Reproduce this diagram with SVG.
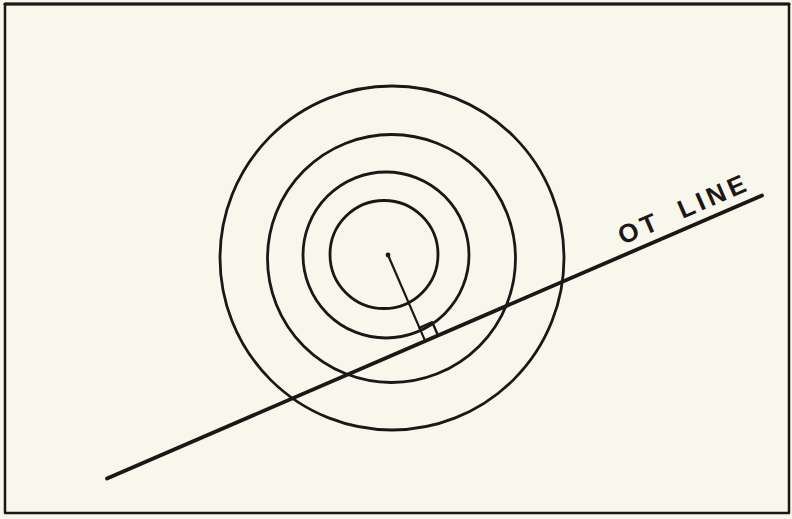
<svg xmlns="http://www.w3.org/2000/svg" width="792" height="519" viewBox="0 0 792 519">
<style>
.ink{fill:none;stroke:#1e1616;stroke-linecap:round;stroke-linejoin:round}
.ring{stroke-width:2.8}
.lbl{font-family:"Liberation Sans",Arial,sans-serif;font-weight:bold;font-size:26px;letter-spacing:4px;fill:#1e1616}
</style>
<rect x="0" y="0" width="792" height="519" fill="#f8f7ec"/>
<rect x="5" y="4" width="784" height="509" class="ink" stroke-width="2.5"/>
<line x1="5" y1="4" x2="789" y2="4" class="ink" stroke-width="3.2"/>
<g id="rings">
  <circle cx="392" cy="258" r="172" class="ink ring"/>
  <circle cx="391.5" cy="258.5" r="124" class="ink ring" stroke-width="3"/>
  <circle cx="386" cy="255" r="83" class="ink ring" stroke-width="3.2"/>
  <circle cx="384" cy="254.5" r="54" class="ink ring" stroke-width="3.2"/>
</g>
<g id="center">
  <circle cx="388" cy="255" r="2.4" fill="#1e1616"/>
</g>
<g id="connectors">
  <line id="ot-line" x1="107" y1="478.5" x2="762" y2="195.5" class="ink" stroke-width="3.8"/>
  <line id="radius" x1="388" y1="255" x2="425" y2="340.6" class="ink" stroke-width="2.2"/>
  <polyline points="419.4,327.8 432.3,322.2 437.8,335" class="ink" stroke-width="2.4"/>
</g>
<g id="label">
  <text class="lbl" transform="translate(618,256.9) rotate(-23.5)" x="9" y="-9">OT<tspan dx="10"> LINE</tspan></text>
</g>
</svg>
